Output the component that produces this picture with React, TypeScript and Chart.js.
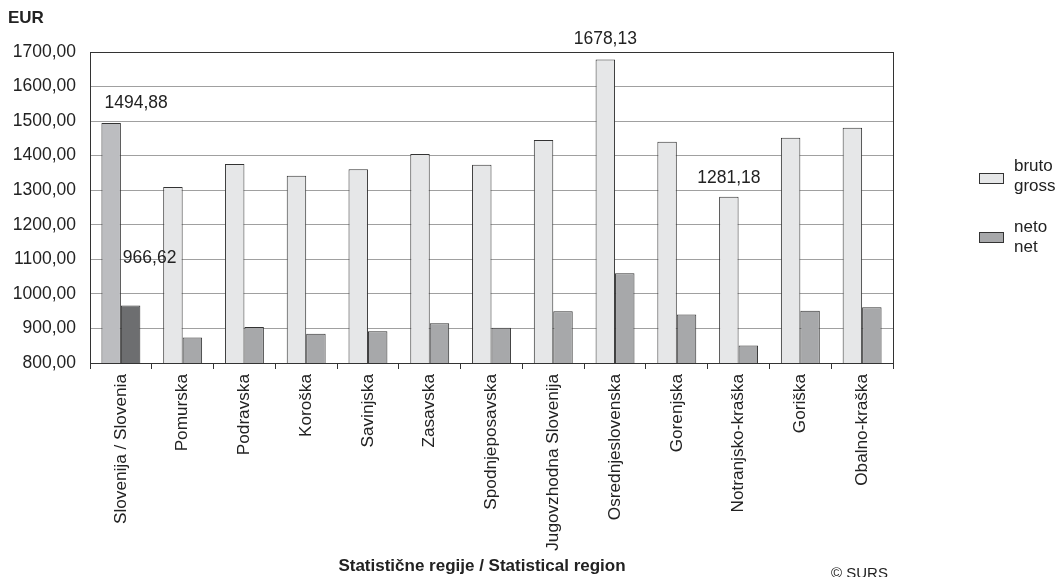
import React, { useEffect, useRef } from 'react';
import { Chart, registerables } from 'chart.js';
Chart.register(...registerables);

const categories = [
  'Slovenija / Slovenia', 'Pomurska', 'Podravska', 'Koroška', 'Savinjska', 'Zasavska',
  'Spodnjeposavska', 'Jugovzhodna Slovenija', 'Osrednjeslovenska', 'Gorenjska',
  'Notranjsko-kraška', 'Goriška', 'Obalno-kraška',
];
const brutoValues = [1494.88, 1309, 1376, 1342, 1361, 1405, 1374, 1445, 1678.13, 1440, 1281.18, 1452, 1481];
const netoValues = [966.62, 874, 904, 885, 892, 915, 902, 950, 1060, 940, 851, 951, 961];
const yMin = 800;
const yMax = 1700;
const yStep = 100;
const seriesNames = [['bruto', 'gross'], ['neto', 'net']];
const labelledPoints = [
  { ds: 0, idx: 0, dx: 25, dy: -20 },
  { ds: 1, idx: 0, dx: 19, dy: -47 },
  { ds: 0, idx: 8, dx: 0, dy: -20 },
  { ds: 0, idx: 10, dx: 0, dy: -19 },
];

const FONT = '"Liberation Sans", Arial, sans-serif';
const fmt = (v: number) => v.toFixed(2).replace('.', ',');

const brutoColors = categories.map((_, i) => (i === 0 ? '#bcbdc0' : '#e6e7e8'));
const netoColors = categories.map((_, i) => (i === 0 ? '#6d6e70' : '#a7a8aa'));

const decorPlugin = {
  id: 'decor',
  afterDraw(chart: any) {
    const ctx = chart.ctx;
    const a = chart.chartArea;
    ctx.save();
    ctx.strokeStyle = '#333';
    ctx.lineWidth = 1;
    ctx.strokeRect(Math.round(a.left) + 0.5, Math.round(a.top) + 0.5, Math.round(a.right - a.left), Math.round(a.bottom - a.top));

    // data labels
    ctx.fillStyle = '#222';
    ctx.font = `17.5px ${FONT}`;
    ctx.textAlign = 'center';
    ctx.textBaseline = 'middle';
    labelledPoints.forEach((p) => {
      const el = chart.getDatasetMeta(p.ds).data[p.idx];
      const v = chart.data.datasets[p.ds].data[p.idx] as number;
      ctx.fillText(fmt(v), el.x + p.dx, el.y + p.dy);
    });

    // unit
    ctx.font = `bold 17px ${FONT}`;
    ctx.textAlign = 'left';
    ctx.fillText('EUR', 8, 18);

    // x title
    ctx.textAlign = 'center';
    ctx.fillText('Statistične regije / Statistical region', 482, 566);

    // source
    ctx.font = `15px ${FONT}`;
    ctx.textAlign = 'left';
    ctx.fillText('© SURS', 831, 574);

    // legend
    const ds = chart.data.datasets;
    const boxes = [
      { y: 173, ty: 166 },
      { y: 232, ty: 227 },
    ];
    boxes.forEach((b, i) => {
      ctx.fillStyle = (ds[i].backgroundColor as string[])[1];
      ctx.fillRect(979.5, b.y + 0.5, 24, 10);
      ctx.strokeStyle = '#333';
      ctx.strokeRect(979.5, b.y + 0.5, 24, 10);
      ctx.fillStyle = '#222';
      ctx.font = `17px ${FONT}`;
      ctx.fillText(seriesNames[i][0], 1014, b.ty);
      ctx.fillText(seriesNames[i][1], 1014, b.ty + 20);
    });
    ctx.restore();
  },
};

export default function App() {
  const ref = useRef<HTMLCanvasElement>(null);
  useEffect(() => {
    if (!ref.current) return;
    const chart = new Chart(ref.current, {
      type: 'bar',
      data: {
        labels: categories,
        datasets: [
          {
            label: 'bruto / gross',
            data: brutoValues,
            backgroundColor: brutoColors,
            borderColor: '#333',
            borderWidth: 1,
            categoryPercentage: 0.63,
            barPercentage: 1,
          },
          {
            label: 'neto / net',
            data: netoValues,
            backgroundColor: netoColors,
            borderColor: '#333',
            borderWidth: 1,
            categoryPercentage: 0.63,
            barPercentage: 1,
          },
        ],
      },
      options: {
        responsive: false,
        animation: false,
        layout: { padding: { top: 52, right: 166, left: 0, bottom: 0 } },
        plugins: { legend: { display: false }, tooltip: { enabled: false } },
        scales: {
          x: {
            grid: { drawOnChartArea: false, drawTicks: true, tickLength: 6, color: '#333', offset: true },
            border: { display: true, color: '#333' },
            ticks: {
              autoSkip: false,
              maxRotation: 90,
              minRotation: 90,
              padding: 5,
              color: '#222',
              font: { family: FONT, size: 17.2 },
            },
            afterFit: (s: any) => { s.height = 214; },
          },
          y: {
            min: yMin,
            max: yMax,
            grid: { color: '#a0a0a0', drawTicks: false },
            border: { display: true, color: '#333' },
            ticks: {
              stepSize: yStep,
              padding: 14,
              color: '#222',
              font: { family: FONT, size: 17.5 },
              callback: (v: any) => fmt(Number(v)),
            },
            afterFit: (s: any) => { s.width = 90; },
          },
        },
      },
      plugins: [decorPlugin],
    });
    return () => chart.destroy();
  }, []);
  return (
    <div style={{ position: 'fixed', left: 0, top: 0, width: 1059, height: 577, background: '#fff' }}>
      <canvas ref={ref} width={1059} height={577} />
    </div>
  );
}
